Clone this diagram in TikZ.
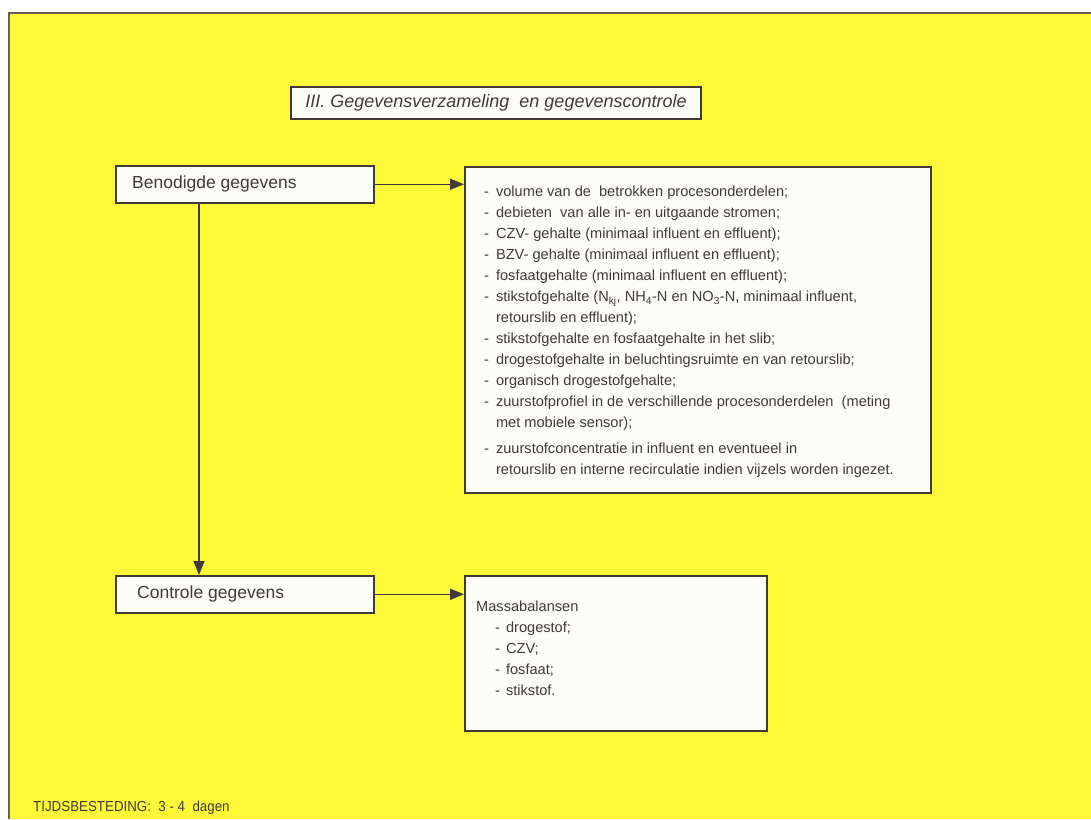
\documentclass[tikz,border=0pt]{standalone}
\usepackage{graphicx}
\usepackage{fontspec}
\setmainfont{Liberation Sans}
\usetikzlibrary{arrows.meta,calc}
\definecolor{sheet}{RGB}{254,250,58}
\definecolor{ink}{RGB}{66,58,56}
\definecolor{rim}{RGB}{105,92,80}
\definecolor{boxline}{RGB}{66,58,54}
\definecolor{card}{RGB}{253,253,248}
\begin{document}
\begin{tikzpicture}[x=1pt,y=-1pt,
  frame/.style={draw=boxline, line width=1.5pt, fill=card, inner sep=0pt},
  lbl/.style={text=ink, font=\fontsize{17.5}{21}\selectfont, inner sep=0pt, anchor=west},
  lst/.style={text=ink, font=\fontsize{14.6}{21}\selectfont, inner sep=0pt, anchor=north west, align=left},
  link/.style={draw=boxline, line width=1.5pt, -{Triangle[length=14pt,width=11pt]}},
]
% sheet with its top and left rim
\useasboundingbox (0,0) rectangle (1091,819);
\fill[white] (0,0) rectangle (1091,819);
\fill[sheet] (9,13) rectangle (1091,819);
\draw[rim, line width=1.6pt] (9,819) -- (9,13) -- (1091,13);

% heading
\node[frame, minimum width=410, minimum height=32, text=ink,
      font=\fontsize{18}{21}\selectfont\itshape] (title) at (496,103)
  {III.~Gegevensverzameling\ \ en gegevenscontrole};

% step boxes
\node[frame, anchor=north west, minimum width=258, minimum height=37] (need) at (115,165) {};
\node[lbl] (needtxt) at ($(need.west)+(17,0)$) {Benodigde gegevens};

\node[frame, anchor=north west, minimum width=258, minimum height=37] (check) at (115,575) {};
\node[lbl] (checktxt) at ($(check.west)+(22,0)$) {Controle gegevens};

% list of required data
\node[frame, anchor=north west, minimum width=466, minimum height=326] (list) at (464,166) {};
\node[lst] (listtxt) at ($(list.north west)+(20,16)$) {%
\begin{tabular}{@{}l@{\hspace{7pt}}l@{}}
- & volume van de\ \ betrokken procesonderdelen; \\
- & debieten\ \ van alle in- en uitgaande stromen; \\
- & CZV- gehalte (minimaal influent en effluent); \\
- & BZV- gehalte (minimaal influent en effluent); \\
- & fosfaatgehalte (minimaal influent en effluent); \\
- & stikstofgehalte (N\textsubscript{kj}, NH\textsubscript{4}-N en NO\textsubscript{3}-N, minimaal influent, \\
  & retourslib en effluent); \\
- & stikstofgehalte en fosfaatgehalte in het slib; \\
- & drogestofgehalte in beluchtingsruimte en van retourslib; \\
- & organisch drogestofgehalte; \\
- & zuurstofprofiel in de verschillende procesonderdelen\ \ (meting \\
  & met mobiele sensor); \\[5pt]
- & zuurstofconcentratie in influent en eventueel in \\
  & retourslib en interne recirculatie indien vijzels worden ingezet.
\end{tabular}};

% mass balances
\node[frame, anchor=north west, minimum width=302, minimum height=155] (mass) at (464,575) {};
\node[lst] (masstxt) at ($(mass.north west)+(12,22)$) {%
\begin{tabular}{@{}l@{}}
Massabalansen \\
\hspace{19pt}-\hspace{6pt}drogestof; \\
\hspace{19pt}-\hspace{6pt}CZV; \\
\hspace{19pt}-\hspace{6pt}fosfaat; \\
\hspace{19pt}-\hspace{6pt}stikstof.
\end{tabular}};

% connectors
\coordinate (stem) at ($(need.south west)+(84,0)$);
\draw[link] (stem) -- (stem |- check.north);
\draw[link] (need.east) -- (need.east -| list.west);
\draw[link] (check.east) -- (check.east -| mass.west);

% time estimate
\node[anchor=base west, inner sep=0pt, text=ink, font=\fontsize{14.5}{16}\selectfont] (time) at (33,811)
  {\scalebox{0.92}[1]{TIJDSBESTEDING:\ \ 3 - 4\ \ dagen}};
\end{tikzpicture}
\end{document}
